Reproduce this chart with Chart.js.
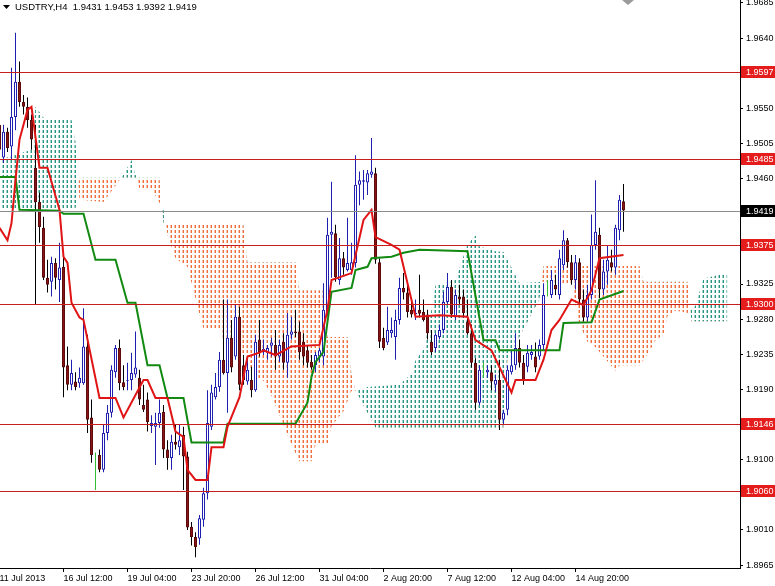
<!DOCTYPE html>
<html>
<head>
<meta charset="utf-8">
<title>USDTRY,H4</title>
<script src="https://cdn.jsdelivr.net/npm/chart.js@4.4.1/dist/chart.umd.min.js"></script>
<style>
  html, body { margin: 0; padding: 0; background: #fff; }
  canvas { display: block; }
</style>
</head>
<body>
<canvas id="myChart" width="775" height="586"></canvas>
<script>
// H4 candles, bar 0 = 11 Jul 2013 20:00
const opens = [1.9529,1.9487,1.9520,1.9501,1.9539,1.9584,1.9558,1.9552,1.9535,1.9474,
  1.9430,1.9397,1.9333,1.9328,1.9352,1.9330,1.9347,1.9221,1.9196,1.9200,
  1.9198,1.9198,1.9245,1.9154,1.9106,1.9106,1.9087,1.9134,1.9160,1.9212,
  1.9243,1.9199,1.9201,1.9202,1.9209,1.9205,1.9170,1.9177,1.9143,1.9142,
  1.9147,1.9161,1.9113,1.9102,1.9123,1.9116,1.9132,1.9104,1.9014,1.9001,
  1.8999,1.9023,1.9057,1.9142,1.9180,1.9193,1.9228,1.9211,1.9256,1.9232,
  1.9283,1.9221,1.9200,1.9202,1.9189,1.9254,1.9238,1.9237,1.9246,1.9247,
  1.9232,1.9251,1.9224,1.9260,1.9264,1.9264,1.9251,1.9240,1.9225,1.9221,
  1.9232,1.9232,1.9289,1.9388,1.9390,1.9330,1.9358,1.9343,1.9343,1.9352,
  1.9452,1.9456,1.9455,1.9465,1.9467,1.9353,1.9256,1.9250,1.9262,1.9257,
  1.9279,1.9320,1.9314,1.9292,1.9286,1.9292,1.9289,1.9286,1.9251,1.9243,
  1.9257,1.9266,1.9302,1.9321,1.9283,1.9309,1.9309,1.9277,1.9262,1.9224,
  1.9173,1.9212,1.9212,1.9212,1.9196,1.9202,1.9151,1.9164,1.9212,1.9221,
  1.9243,1.9224,1.9219,1.9234,1.9232,1.9232,1.9247,1.9318,1.9311,1.9324,
  1.9311,1.9349,1.9381,1.9353,1.9330,1.9353,1.9305,1.9282,1.9311,1.9375,
  1.9388,1.9318,1.9341,1.9353,1.9346,1.9394,1.9431];
const highs = [1.9551,1.9529,1.9525,1.9602,1.9647,1.9610,1.9567,1.9564,1.9542,1.9529,
  1.9442,1.9411,1.9356,1.9360,1.9358,1.9378,1.9362,1.9245,1.9228,1.9212,
  1.9218,1.9294,1.9260,1.9177,1.9109,1.9113,1.9145,1.9170,1.9221,1.9247,
  1.9254,1.9221,1.9224,1.9237,1.9264,1.9215,1.9196,1.9186,1.9157,1.9160,
  1.9177,1.9170,1.9125,1.9132,1.9145,1.9145,1.9142,1.9110,1.9020,1.9007,
  1.9029,1.9064,1.9189,1.9196,1.9211,1.9238,1.9305,1.9305,1.9279,1.9298,
  1.9296,1.9234,1.9232,1.9219,1.9260,1.9279,1.9254,1.9247,1.9256,1.9266,
  1.9254,1.9262,1.9288,1.9283,1.9292,1.9277,1.9262,1.9247,1.9234,1.9238,
  1.9243,1.9326,1.9410,1.9456,1.9401,1.9384,1.9366,1.9410,1.9378,1.9490,
  1.9469,1.9471,1.9471,1.9512,1.9474,1.9358,1.9269,1.9296,1.9282,1.9292,
  1.9333,1.9339,1.9324,1.9305,1.9305,1.9337,1.9305,1.9292,1.9266,1.9262,
  1.9273,1.9315,1.9339,1.9330,1.9318,1.9324,1.9318,1.9305,1.9273,1.9230,
  1.9221,1.9224,1.9221,1.9221,1.9209,1.9228,1.9164,1.9221,1.9240,1.9262,
  1.9254,1.9234,1.9247,1.9247,1.9250,1.9254,1.9326,1.9330,1.9343,1.9337,
  1.9369,1.9394,1.9384,1.9362,1.9362,1.9358,1.9318,1.9324,1.9414,1.9458,
  1.9397,1.9356,1.9375,1.9369,1.9401,1.9439,1.9453];
const lows = [1.9484,1.9480,1.9494,1.9484,1.9522,1.9552,1.9542,1.9525,1.9497,1.9298,
  1.9378,1.9330,1.9314,1.9309,1.9318,1.9302,1.9180,1.9189,1.9189,1.9189,
  1.9192,1.9196,1.9134,1.9096,1.9061,1.9084,1.9084,1.9125,1.9154,1.9205,
  1.9189,1.9189,1.9189,1.9189,1.9205,1.9170,1.9161,1.9136,1.9134,1.9093,
  1.9141,1.9102,1.9087,1.9087,1.9113,1.9106,1.9061,1.9010,1.8990,1.8975,
  1.8991,1.9014,1.9049,1.9138,1.9177,1.9187,1.9209,1.9160,1.9212,1.9228,
  1.9189,1.9196,1.9196,1.9180,1.9187,1.9232,1.9234,1.9228,1.9232,1.9215,
  1.9225,1.9215,1.9205,1.9254,1.9257,1.9228,1.9221,1.9218,1.9215,1.9212,
  1.9225,1.9221,1.9284,1.9333,1.9328,1.9324,1.9337,1.9341,1.9337,1.9346,
  1.9426,1.9433,1.9439,1.9461,1.9351,1.9243,1.9240,1.9247,1.9256,1.9228,
  1.9273,1.9305,1.9282,1.9282,1.9279,1.9282,1.9277,1.9254,1.9234,1.9238,
  1.9254,1.9262,1.9298,1.9282,1.9279,1.9298,1.9282,1.9260,1.9218,1.9164,
  1.9170,1.9206,1.9205,1.9189,1.9187,1.9138,1.9145,1.9157,1.9209,1.9215,
  1.9218,1.9196,1.9212,1.9228,1.9212,1.9228,1.9240,1.9309,1.9307,1.9311,
  1.9305,1.9343,1.9346,1.9324,1.9318,1.9298,1.9277,1.9277,1.9305,1.9369,
  1.9307,1.9311,1.9324,1.9341,1.9337,1.9381,1.9392];
const closes = [1.9497,1.9520,1.9499,1.9539,1.9584,1.9558,1.9552,1.9535,1.9510,1.9430,
  1.9398,1.9333,1.9324,1.9352,1.9333,1.9346,1.9218,1.9196,1.9211,1.9193,
  1.9205,1.9245,1.9151,1.9106,1.9106,1.9087,1.9134,1.9160,1.9215,1.9243,
  1.9198,1.9193,1.9202,1.9211,1.9218,1.9177,1.9164,1.9148,1.9147,1.9147,
  1.9160,1.9113,1.9102,1.9123,1.9119,1.9125,1.9104,1.9013,1.9001,1.8988,
  1.9025,1.9057,1.9147,1.9186,1.9193,1.9228,1.9211,1.9256,1.9218,1.9283,
  1.9196,1.9202,1.9215,1.9189,1.9251,1.9238,1.9242,1.9243,1.9250,1.9232,
  1.9247,1.9224,1.9260,1.9264,1.9262,1.9238,1.9232,1.9224,1.9218,1.9234,
  1.9240,1.9292,1.9388,1.9392,1.9334,1.9358,1.9346,1.9352,1.9353,1.9452,
  1.9458,1.9458,1.9467,1.9469,1.9356,1.9251,1.9243,1.9266,1.9266,1.9279,
  1.9320,1.9314,1.9289,1.9286,1.9288,1.9287,1.9279,1.9262,1.9238,1.9260,
  1.9266,1.9302,1.9321,1.9286,1.9311,1.9305,1.9288,1.9262,1.9224,1.9173,
  1.9215,1.9212,1.9215,1.9200,1.9202,1.9151,1.9160,1.9215,1.9221,1.9243,
  1.9224,1.9202,1.9237,1.9238,1.9218,1.9247,1.9311,1.9318,1.9330,1.9318,
  1.9358,1.9381,1.9353,1.9330,1.9353,1.9305,1.9282,1.9311,1.9375,1.9392,
  1.9318,1.9341,1.9356,1.9346,1.9397,1.9433,1.9419];

// Ichimoku lines as [bar, price] turning points
const tenkan = [[0,1.9397],[2,1.9381],[3,1.9403],[4,1.9458],[5,1.9510],[7,1.9548],[8,1.9552],[9,1.9513],[10,1.9474],[12,1.9474],
  [15,1.9420],[16,1.9360],[17,1.9352],[18,1.9301],[20,1.9282],[21,1.9279],[25,1.9179],[29,1.9179],[31,1.9154],[36,1.9202],
  [37,1.9202],[39,1.9179],[42,1.9179],[44,1.9136],[46,1.9129],[47,1.9087],[49,1.9074],[52,1.9074],[53,1.9116],[56,1.9116],
  [57,1.9142],[60,1.9180],[62,1.9232],[65,1.9237],[66,1.9240],[69,1.9234],[73,1.9245],[80,1.9247],[82,1.9292],[83,1.9330],
  [88,1.9339],[91,1.9407],[93,1.9420],[94,1.9385],[98,1.9375],[100,1.9369],[104,1.9283],[110,1.9285],[117,1.9283],[119,1.9253],
  [123,1.9240],[128,1.9186],[129,1.9202],[134,1.9202],[136,1.9228],[138,1.9266],[140,1.9279],[143,1.9305],[146,1.9298],[148,1.9317],
  [150,1.9358],[156,1.9362]];
const kijun = [[0,1.9462],[4,1.9462],[5,1.9420],[15,1.9419],[16,1.9415],[21,1.9415],[24,1.9356],[29,1.9356],[32,1.9301],[34,1.9301],
  [37,1.9221],[40,1.9221],[42,1.9179],[46,1.9179],[48,1.9122],[56,1.9122],[57,1.9146],[74,1.9146],[77,1.9173],[78,1.9206],
  [79,1.9225],[81,1.9238],[83,1.9315],[88,1.9320],[89,1.9343],[92,1.9347],[93,1.9358],[98,1.9360],[101,1.9365],[105,1.9369],
  [117,1.9367],[121,1.9253],[124,1.9253],[125,1.9240],[140,1.9240],[141,1.9275],[148,1.9276],[150,1.9305],[156,1.9316]];
const senkouA = [[0,1.9484],[8,1.9497],[9,1.9552],[11,1.9538],[18,1.9535],[19,1.9507],[20,1.9433],[26,1.9430],[31,1.9465],[33,1.9484],
  [35,1.9447],[38,1.9447],[41,1.9420],[42,1.9388],[44,1.9358],[47,1.9347],[50,1.9286],[51,1.9268],[55,1.9268],[57,1.9237],
  [58,1.9233],[62,1.9234],[63,1.9209],[66,1.9201],[68,1.9182],[70,1.9157],[73,1.9119],[75,1.9098],[78,1.9098],[79,1.9119],
  [82,1.9119],[83,1.9143],[86,1.9162],[88,1.9188],[92,1.9193],[100,1.9196],[103,1.9210],[104,1.9227],[106,1.9241],[108,1.9292],
  [109,1.9323],[114,1.9330],[117,1.9376],[119,1.9387],[120,1.9373],[124,1.9367],[126,1.9366],[130,1.9326],[136,1.9328],[143,1.9325],
  [145,1.9273],[147,1.9251],[149,1.9244],[154,1.9214],[155,1.9221],[160,1.9221],[162,1.9234],[164,1.9253],[166,1.9260],[167,1.9284],
  [169,1.9291],[172,1.9288],[174,1.9297],[176,1.9332],[182,1.9339]];
const senkouB = [[0,1.9420],[19,1.9420],[20,1.9461],[40,1.9461],[41,1.9401],[61,1.9401],[62,1.9353],[74,1.9353],[75,1.9317],[81,1.9317],
  [82,1.9257],[87,1.9257],[88,1.9209],[89,1.9189],[91,1.9169],[94,1.9141],[126,1.9141],[127,1.9228],[135,1.9305],[136,1.9348],
  [160,1.9348],[161,1.9328],[172,1.9328],[173,1.9277],[182,1.9277]];

// horizontal levels and the bid line
const levels = [1.9597, 1.9485, 1.9375, 1.9300, 1.9146, 1.9060];
const bid = 1.9419;

// axis labels
const timeLabels = ['11 Jul 2013', '16 Jul 12:00', '19 Jul 04:00', '23 Jul 20:00', '26 Jul 12:00',
  '31 Jul 04:00', '2 Aug 20:00', '7 Aug 12:00', '12 Aug 04:00', '14 Aug 20:00'];
const timeBars = [0, 16, 32, 48, 64, 80, 96, 112, 128, 144];
const priceTicks = [1.9685, 1.9640, 1.9595, 1.9550, 1.9505, 1.9460, 1.9415, 1.9370, 1.9325,
  1.9280, 1.9235, 1.9190, 1.9145, 1.9100, 1.9055, 1.9010, 1.8965];
const header = 'USDTRY,H4  1.9431 1.9453 1.9392 1.9419';

const BULL = '#2020b0', BEAR = '#8a1414', BEAR_EDGE = '#5c0c0c', DOJI = '#2fbf2f';
const LEVEL = '#c81e1e', LABEL = '#e41c1c';

Chart.defaults.font.family = '"Liberation Sans", Arial, sans-serif';
Chart.defaults.font.size = 9;
Chart.defaults.color = '#000';

const canvas = document.getElementById('myChart');
const ctx = canvas.getContext('2d');

// dotted kumo hatch: one dashed column per bar, with a faint halo column
function hatch(r, g, b) {
    const c = document.createElement('canvas');
    c.width = 4; c.height = 5;
    const h = c.getContext('2d');
    h.fillStyle = `rgba(${r},${g},${b},0.45)`;
    h.fillRect(2, 0, 1, 3);
    h.fillStyle = `rgb(${r},${g},${b})`;
    h.fillRect(3, 0, 1, 3);
    return ctx.createPattern(c, 'repeat');
}

const wicks = opens.map((o, i) => ({x: i, y: [lows[i], highs[i]]}));
const wickColors = opens.map((o, i) => o === closes[i] ? DOJI : (closes[i] > o ? BULL : '#000'));
const bodies = [], bodyFill = [], bodyLine = [];
opens.forEach((o, i) => {
    if (o === closes[i]) return;
    bodies.push({x: i, y: [o, closes[i]]});
    bodyFill.push(closes[i] > o ? '#ffffff' : BEAR);
    bodyLine.push(closes[i] > o ? BULL : BEAR_EDGE);
});
const pts = arr => arr.map(p => ({x: p[0], y: p[1]}));

const overlay = {
    id: 'overlay',
    afterDatasetsDraw(chart) {
        const {ctx, chartArea: a, scales: {y}} = chart;
        ctx.save();
        ctx.lineWidth = 1;
        levels.forEach(p => {
            const py = Math.round(y.getPixelForValue(p)) + 0.5;
            ctx.strokeStyle = LEVEL;
            ctx.beginPath(); ctx.moveTo(a.left, py); ctx.lineTo(a.right, py); ctx.stroke();
        });
        const by = Math.round(y.getPixelForValue(bid)) + 0.5;
        ctx.strokeStyle = '#8c8c8c';
        ctx.beginPath(); ctx.moveTo(a.left, by); ctx.lineTo(a.right, by); ctx.stroke();
        ctx.restore();
    },
    afterDraw(chart) {
        const {ctx, chartArea: a, scales: {y}} = chart;
        ctx.save();
        ctx.font = '9px "Liberation Sans", Arial, sans-serif';
        ctx.textBaseline = 'middle';
        const tag = (p, bg) => {
            const py = Math.round(y.getPixelForValue(p));
            ctx.fillStyle = bg;
            ctx.fillRect(a.right + 1, py - 6, 34, 12);
            ctx.fillStyle = '#fff';
            ctx.fillText(p.toFixed(4), a.right + 6, py + 0.5);
        };
        levels.forEach(p => tag(p, LABEL));
        tag(bid, '#000');

        // header
        ctx.fillStyle = '#000';
        ctx.beginPath(); ctx.moveTo(3, 5); ctx.lineTo(10, 5); ctx.lineTo(6.5, 9); ctx.closePath(); ctx.fill();
        ctx.font = '9.5px "Liberation Sans", Arial, sans-serif';
        ctx.fillText(header, 15, 7.5);

        // chart shift marker
        ctx.fillStyle = '#9a9a9a';
        ctx.beginPath(); ctx.moveTo(622, 0); ctx.lineTo(634, 0); ctx.lineTo(628, 5); ctx.closePath(); ctx.fill();
        ctx.restore();
    }
};

const chart = new Chart(ctx, {
    type: 'bar',
    data: {
        datasets: [
            {
                type: 'line', label: 'Senkou A', data: pts(senkouA), order: 20,
                borderWidth: 0, borderColor: 'rgba(0,0,0,0)', pointRadius: 0, tension: 0,
                fill: {target: '+1', above: hatch(40, 150, 130), below: hatch(240, 110, 60)}
            },
            {
                type: 'line', label: 'Senkou B', data: pts(senkouB), order: 19,
                borderWidth: 0, borderColor: 'rgba(0,0,0,0)', pointRadius: 0, tension: 0, fill: false
            },
            {
                label: 'wick', data: wicks, order: 6, grouped: false,
                barThickness: 1, backgroundColor: wickColors, borderWidth: 0, inflateAmount: 0
            },
            {
                label: 'body', data: bodies, order: 5, grouped: false,
                barThickness: 3, backgroundColor: bodyFill, borderColor: bodyLine,
                borderWidth: 1, borderSkipped: false, inflateAmount: 0
            },
            {
                type: 'line', label: 'Kijun', data: pts(kijun), order: 2,
                borderColor: '#128a12', borderWidth: 2, pointRadius: 0, tension: 0, fill: false
            },
            {
                type: 'line', label: 'Tenkan', data: pts(tenkan), order: 1,
                borderColor: '#e01414', borderWidth: 2, pointRadius: 0, tension: 0, fill: false
            }
        ]
    },
    options: {
        responsive: false,
        animation: false,
        devicePixelRatio: 1,
        layout: {padding: 0},
        plugins: {
            legend: {display: false},
            tooltip: {enabled: false},
            filler: {drawTime: 'beforeDatasetsDraw'}
        },
        scales: {
            x: {
                type: 'linear', min: 0.125, max: 185.125, offset: false,
                afterBuildTicks: s => { s.ticks = timeBars.map(v => ({value: v})); },
                afterFit: s => { s.height = 18; s.paddingLeft = 0; s.paddingRight = 0; },
                ticks: {
                    autoSkip: false, maxRotation: 0, align: 'start', padding: 1,
                    callback: v => timeLabels[timeBars.indexOf(v)]
                },
                grid: {drawOnChartArea: false, tickLength: 4, color: '#000', offset: false},
                border: {color: '#000'}
            },
            y: {
                position: 'right', beginAtZero: false,
                min: 1.96888 - 568 / 7806.5, max: 1.96888,
                afterBuildTicks: s => { s.ticks = priceTicks.map(v => ({value: v})); },
                afterFit: s => { s.width = 35; s.paddingTop = 0; s.paddingBottom = 0; },
                ticks: {padding: 3, callback: v => v.toFixed(4)},
                grid: {drawOnChartArea: false, tickLength: 3, color: '#000'},
                border: {color: '#000'}
            }
        }
    },
    plugins: [overlay]
});
</script>
</body>
</html>
